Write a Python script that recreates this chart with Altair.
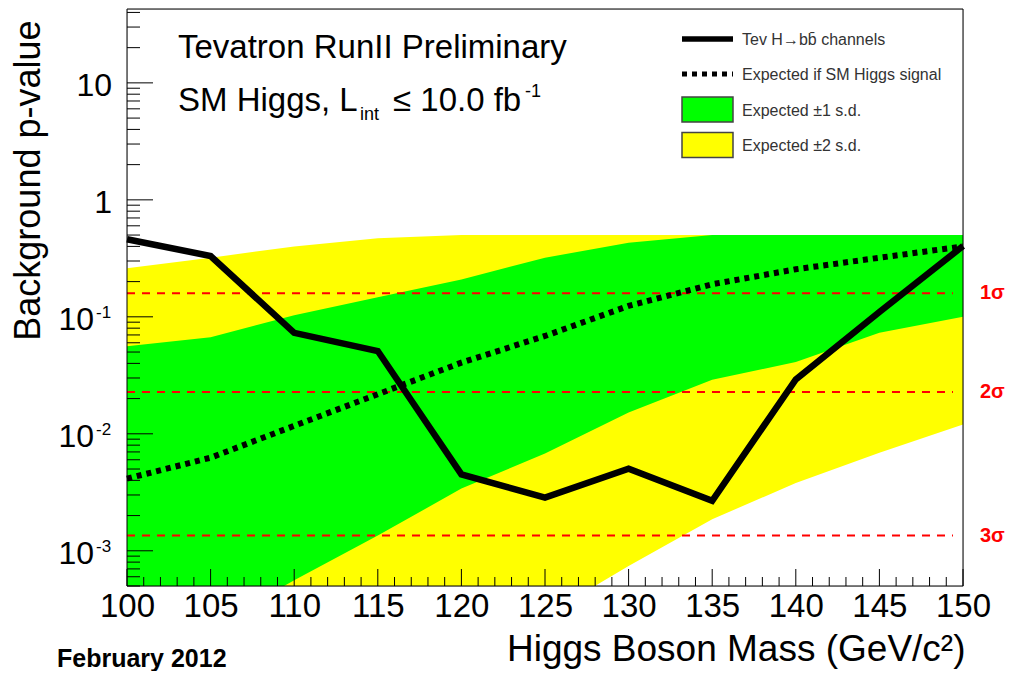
import altair as alt
import pandas as pd

# ---------------- data ----------------
mass = [100, 105, 110, 115, 120, 125, 130, 135, 140, 145, 150]
observed = [0.46, 0.331, 0.073, 0.051, 0.0045, 0.00285, 0.00504, 0.00267, 0.0292, 0.11, 0.403]
expected = [0.00414, 0.00625, 0.0117, 0.0218, 0.0406, 0.0686, 0.124, 0.19, 0.255, 0.32, 0.40]
green_lo = [1.0e-4, 2.2e-4, 5.6e-4, 0.00135, 0.0034, 0.0068, 0.0152, 0.029, 0.041, 0.073, 0.10]
green_hi = [0.056, 0.067, 0.103, 0.147, 0.209, 0.32, 0.43, 0.5, 0.5, 0.5, 0.5]
yellow_lo = [5e-6, 1e-5, 2e-5, 5e-5, 1.2e-4, 2.8e-4, 7.4e-4, 0.00186, 0.0038, 0.0069, 0.012]
yellow_hi = [0.26, 0.32, 0.40, 0.47, 0.5, 0.5, 0.5, 0.5, 0.5, 0.5, 0.5]

sigma_labels = ["1σ", "2σ", "3σ"]
sigma_p = [0.1587, 0.02275, 0.00135]

x_ticks = [100, 105, 110, 115, 120, 125, 130, 135, 140, 145, 150]
x_minor = [m for m in range(100, 151) if m % 5 != 0]
y_major = [0.001, 0.01, 0.1, 1, 10]
y_minor = [k * d for d in [1e-4, 1e-3, 1e-2, 1e-1, 1, 10] for k in range(2, 10)
           if 5e-4 <= k * d <= 42.8]

exp_vals = [0.1, 0.01, 0.001]
exp_sup = ["-1", "-2", "-3"]
plain_vals = [10, 1]
plain_labels = ["10", "1"]

legend_labels = ["Tev H\u2192bb\u0304 channels", "Expected if SM Higgs signal",
                 "Expected \u00b11 s.d.", "Expected \u00b12 s.d."]

FONT = "Liberation Sans"
W, H = 836, 577
Y_BOT, Y_TOP = 5e-4, 42.8

df = pd.DataFrame({"m": mass, "obs": observed, "exp": expected,
                   "glo": green_lo, "ghi": green_hi, "ylo": yellow_lo, "yhi": yellow_hi})

xs = alt.Scale(domain=[100, 150], nice=False, zero=False)
ys = alt.Scale(type="log", domain=[Y_BOT, Y_TOP], nice=False)

x_axis = alt.Axis(values=x_ticks, ticks=False, domain=False, grid=False,
                  labelFontSize=33, labelFont=FONT, labelColor="black", labelPadding=4,
                  labelFlush=False, labelOverlap=False,
                  title="Higgs Boson Mass (GeV/c\u00b2)", titleFont=FONT, titleFontSize=37,
                  titleFontWeight="normal", titleColor="black", titleAlign="right",
                  titleBaseline="alphabetic", titleX=838, titleY=74)
y_axis = alt.Axis(labels=False, ticks=False, domain=False, grid=False,
                  title="Background p-value", titleFont=FONT, titleFontSize=36,
                  titleFontWeight="normal", titleColor="black", titleAngle=270,
                  titleAlign="right", titleBaseline="alphabetic", titleX=-88, titleY=11)


def X(field):
    return alt.X(field, type="quantitative", scale=xs, axis=None)


def Y(field):
    return alt.Y(field, type="quantitative", scale=ys, axis=None)


base = alt.Chart(df)

# the only layer that carries the axes (axes resolved independently below)
yellow = base.mark_area(color="#ffff00", clip=True).encode(
    x=alt.X("m", type="quantitative", scale=xs, axis=x_axis),
    y=alt.Y("ylo", type="quantitative", scale=ys, axis=y_axis),
    y2="yhi:Q")
green = base.mark_area(color="#00ff00", clip=True).encode(
    x=X("m"), y=Y("glo"), y2="ghi:Q")

sig_df = pd.DataFrame({"p": sigma_p, "lab": sigma_labels})
sig_lines = alt.Chart(sig_df).mark_rule(color="#ff0000", strokeWidth=2, strokeDash=[8, 7]).encode(
    x=alt.datum(100, scale=xs, axis=None), x2=alt.datum(149.4), y=Y("p"))
sig_text = alt.Chart(sig_df).mark_text(color="#ff0000", font=FONT, fontSize=20, fontWeight="bold",
                                       align="left", baseline="middle").encode(
    x=alt.value(853), y=Y("p"), text="lab:N")

exp_line = base.mark_line(color="black", strokeWidth=6, strokeDash=[5, 5]).encode(
    x=X("m"), y=Y("exp"))
obs_line = base.mark_line(color="black", strokeWidth=6.5, strokeJoin="miter").encode(
    x=X("m"), y=Y("obs"))

# inward ticks
xt_major = alt.Chart(pd.DataFrame({"m": x_ticks})).mark_rule(color="black", strokeWidth=1).encode(
    x=X("m"), y=alt.value(H), y2=alt.value(H - 17))
xt_minor = alt.Chart(pd.DataFrame({"m": x_minor})).mark_rule(color="black", strokeWidth=1).encode(
    x=X("m"), y=alt.value(H), y2=alt.value(H - 9))
yt_major = alt.Chart(pd.DataFrame({"v": y_major})).mark_rule(color="black", strokeWidth=1).encode(
    y=Y("v"), x=alt.value(0), x2=alt.value(26))
yt_minor = alt.Chart(pd.DataFrame({"v": y_minor})).mark_rule(color="black", strokeWidth=1).encode(
    y=Y("v"), x=alt.value(0), x2=alt.value(13))

# y tick labels (10^n with superscripts)
plain_df = pd.DataFrame({"v": plain_vals, "t": plain_labels})
ylab_plain = alt.Chart(plain_df).mark_text(font=FONT, fontSize=32, align="right",
                                           baseline="alphabetic", dy=13, color="black").encode(
    x=alt.value(-15), y=Y("v"), text="t:N")
exp_df = pd.DataFrame({"v": exp_vals, "b": ["10"] * 3, "s": exp_sup})
ylab_base = alt.Chart(exp_df).mark_text(font=FONT, fontSize=32, align="right",
                                        baseline="alphabetic", dy=13, color="black").encode(
    x=alt.value(-33), y=Y("v"), text="b:N")
ylab_sup = alt.Chart(exp_df).mark_text(font=FONT, fontSize=17, align="left",
                                       baseline="alphabetic", dy=1, color="black").encode(
    x=alt.value(-31), y=Y("v"), text="s:N")

frame = alt.Chart(pd.DataFrame({"a": [0]})).mark_rect(filled=False, stroke="black", strokeWidth=1).encode(
    x=alt.datum(100, scale=xs, axis=None), x2=alt.datum(150),
    y=alt.datum(Y_BOT, scale=ys, axis=None), y2=alt.datum(Y_TOP))


def txt(s, x, y, size, weight="normal", align="left", color="black"):
    return alt.Chart(pd.DataFrame({"t": [s]})).mark_text(
        font=FONT, fontSize=size, fontWeight=weight, align=align,
        baseline="alphabetic", color=color).encode(
        x=alt.value(x), y=alt.value(y), text="t:N")


annotations = [
    txt("Tevatron RunII Preliminary", 51, 49, 33),
    txt("SM Higgs, L", 51, 102, 33),
    txt("int", 233, 111, 18),
    txt("\u2264 10.0 fb", 266, 102, 33),
    txt("-1", 398, 88, 18),
    txt("February 2012", -70, 658, 25, weight="bold"),
]

# legend
LX0, LX1, LT = 555, 606, 615
rows = [30, 65, 100.5, 136]
one = pd.DataFrame({"a": [0]})
leg = [
    alt.Chart(one).mark_rule(color="black", strokeWidth=5.5).encode(
        x=alt.value(LX0), x2=alt.value(LX1), y=alt.value(rows[0])),
    alt.Chart(one).mark_rule(color="black", strokeWidth=5, strokeDash=[5, 5]).encode(
        x=alt.value(LX0), x2=alt.value(LX1), y=alt.value(rows[1])),
    alt.Chart(one).mark_rect(fill="#00ff00", stroke="#444444", strokeWidth=1.5).encode(
        x=alt.value(LX0), x2=alt.value(LX1), y=alt.value(rows[2] - 12.5), y2=alt.value(rows[2] + 12.5)),
    alt.Chart(one).mark_rect(fill="#ffff00", stroke="#444444", strokeWidth=1.5).encode(
        x=alt.value(LX0), x2=alt.value(LX1), y=alt.value(rows[3] - 12.5), y2=alt.value(rows[3] + 12.5)),
]
for lab, r in zip(legend_labels, rows):
    leg.append(txt(lab, LT, r + 6, 16, color="#333333"))

chart = alt.layer(
    yellow, green, sig_lines, yt_major, yt_minor,
    exp_line, obs_line, xt_major, xt_minor, frame, sig_text, ylab_plain, ylab_base, ylab_sup,
    *annotations, *leg
).resolve_axis(x="independent", y="independent").properties(
    width=W, height=H,
    autosize=alt.AutoSizeParams(type="none"),
    padding={"left": 119, "top": 1, "right": 43, "bottom": 85},
).configure_view(stroke="transparent").configure(background="white")

chart.save("out.html", embed_options={"renderer": "svg", "actions": False})
